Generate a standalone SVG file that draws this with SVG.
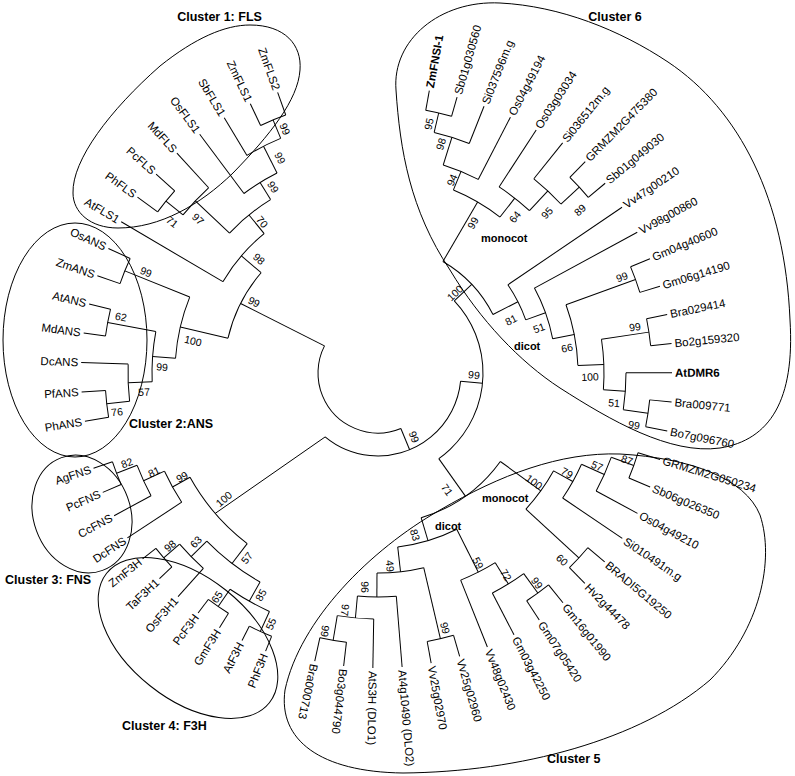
<svg xmlns="http://www.w3.org/2000/svg" width="795" height="776" viewBox="0 0 795 776">
<style>
.c{fill:none;stroke:#000;stroke-width:1}
.a{fill:none;stroke:#000;stroke-width:1}
.lf{font-family:"Liberation Sans",Arial,sans-serif;font-size:11.5px;fill:#000}
.b{font-family:"Liberation Sans",Arial,sans-serif;font-size:10.5px;fill:#000;text-anchor:middle}
.t{font-family:"Liberation Sans",Arial,sans-serif;font-size:12.5px;font-weight:bold;fill:#000}
.m{font-family:"Liberation Sans",Arial,sans-serif;font-size:11px;font-weight:bold;fill:#000}
.e{fill:none;stroke:#000;stroke-width:1}
</style>
<rect width="795" height="776" fill="#fff"/>
<g id="clusters">
<g id="cluster1"><path class="e" d="M73,193 C72,160 110,110 160,66 C195,38 225,25 250,25 C285,25 302,45 300,70 C298,100 270,135 233,173 C200,205 160,228 118,228 C90,228 73,212 73,193 Z"/><text class="t" x="219.5" y="21" text-anchor="middle">Cluster 1: FLS</text></g>
<g id="cluster2"><ellipse class="e" cx="75" cy="340" rx="72" ry="117"/><text class="t" x="129" y="428">Cluster 2:ANS</text></g>
<g id="cluster3"><ellipse class="e" cx="82" cy="514" rx="48.5" ry="60" transform="rotate(-20 82 514)"/><text class="t" x="5" y="584">Cluster 3: FNS</text></g>
<g id="cluster4"><ellipse class="e" cx="188" cy="638" rx="104" ry="61" transform="rotate(38.5 188 638)"/><text class="t" x="122" y="730">Cluster 4: F3H</text></g>
<g id="cluster5"><path class="e" d="M403,773 C520,772 640,740 710,680 C760,630 775,560 760,515 C745,478 690,458 620,454 C560,452 500,475 440,510 C370,550 300,620 285,690 C278,740 320,772 403,773 Z"/><text class="t" x="547" y="763">Cluster 5</text><text class="m" x="482" y="502">monocot</text><text class="m" x="435" y="530">dicot</text></g>
<g id="cluster6"><path class="e" d="M396,90 C392,40 440,0 500,3 C560,6 620,30 668,62 C740,110 785,200 790,320 C795,400 770,440 720,448 C670,455 610,420 560,388 C520,362 480,320 450,270 C410,210 400,150 396,90 Z"/><text class="t" x="615" y="21" text-anchor="middle">Cluster 6</text><text class="m" x="481" y="242">monocot</text><text class="m" x="514" y="350">dicot</text></g>
</g>
<g id="connectors" transform="translate(378 373)">
<circle class="a" r="60" pathLength="360" stroke-dasharray="139.25 720" transform="rotate(67.6)"/>
<line class="c" x1="60" x2="83" transform="rotate(67.6)"/>
<circle class="a" r="83" pathLength="360" stroke-dasharray="123.97 720" transform="rotate(5.63)"/>
<line class="c" x1="83" x2="105" transform="rotate(5.63)"/>
<circle class="a" r="105" pathLength="360" stroke-dasharray="98.03 720" transform="rotate(-43.39)"/>
<line class="c" x1="-52.9" y1="63.95" x2="-162.8" y2="140.4"/>
<line class="c" x1="60" x2="154" transform="rotate(206.85)"/>
<circle class="a" r="154" pathLength="360" stroke-dasharray="27.56 720" transform="rotate(193.07)"/>
<line class="c" x1="180" x2="298" transform="rotate(210.49)"/>
<line class="c" x1="273" x2="298" transform="rotate(216.18)"/>
<line class="c" x1="273" x2="298" transform="rotate(221.87)"/>
<line class="c" x1="251" x2="298" transform="rotate(227.56)"/>
<line class="c" x1="224" x2="298" transform="rotate(233.25)"/>
<line class="c" x1="254" x2="298" transform="rotate(238.94)"/>
<line class="c" x1="274" x2="298" transform="rotate(244.63)"/>
<line class="c" x1="274" x2="298" transform="rotate(250.32)"/>
<circle class="a" r="273" pathLength="360" stroke-dasharray="5.69 720" transform="rotate(216.18)"/>
<line class="c" x1="251" x2="273" transform="rotate(219.03)"/>
<circle class="a" r="251" pathLength="360" stroke-dasharray="8.53 720" transform="rotate(219.03)"/>
<line class="c" x1="204" x2="251" transform="rotate(223.3)"/>
<circle class="a" r="274" pathLength="360" stroke-dasharray="5.69 720" transform="rotate(244.63)"/>
<line class="c" x1="254" x2="274" transform="rotate(247.48)"/>
<circle class="a" r="254" pathLength="360" stroke-dasharray="8.54 720" transform="rotate(238.94)"/>
<line class="c" x1="224" x2="254" transform="rotate(243.21)"/>
<circle class="a" r="224" pathLength="360" stroke-dasharray="9.96 720" transform="rotate(233.25)"/>
<line class="c" x1="204" x2="224" transform="rotate(238.23)"/>
<circle class="a" r="204" pathLength="360" stroke-dasharray="14.93 720" transform="rotate(223.3)"/>
<line class="c" x1="180" x2="204" transform="rotate(230.77)"/>
<circle class="a" r="180" pathLength="360" stroke-dasharray="20.28 720" transform="rotate(210.49)"/>
<line class="c" x1="154" x2="180" transform="rotate(220.63)"/>
<line class="c" x1="273" x2="297" transform="rotate(170.66)"/>
<line class="c" x1="273" x2="297" transform="rotate(176.35)"/>
<line class="c" x1="250" x2="297" transform="rotate(182.04)"/>
<line class="c" x1="275" x2="297" transform="rotate(187.73)"/>
<line class="c" x1="275" x2="297" transform="rotate(193.42)"/>
<line class="c" x1="273" x2="297" transform="rotate(199.11)"/>
<line class="c" x1="273" x2="297" transform="rotate(204.8)"/>
<circle class="a" r="273" pathLength="360" stroke-dasharray="5.69 720" transform="rotate(170.66)"/>
<line class="c" x1="250" x2="273" transform="rotate(173.51)"/>
<circle class="a" r="250" pathLength="360" stroke-dasharray="8.53 720" transform="rotate(173.51)"/>
<line class="c" x1="226" x2="250" transform="rotate(177.78)"/>
<circle class="a" r="275" pathLength="360" stroke-dasharray="5.69 720" transform="rotate(187.73)"/>
<line class="c" x1="226" x2="275" transform="rotate(190.58)"/>
<circle class="a" r="226" pathLength="360" stroke-dasharray="12.8 720" transform="rotate(177.78)"/>
<line class="c" x1="203" x2="226" transform="rotate(184.18)"/>
<circle class="a" r="273" pathLength="360" stroke-dasharray="5.69 720" transform="rotate(199.11)"/>
<line class="c" x1="203" x2="273" transform="rotate(201.96)"/>
<circle class="a" r="203" pathLength="360" stroke-dasharray="17.78 720" transform="rotate(184.18)"/>
<line class="c" x1="154" x2="203" transform="rotate(193.07)"/>
<line class="c" x1="284" x2="300" transform="rotate(112)"/>
<line class="c" x1="284" x2="300" transform="rotate(116.95)"/>
<line class="c" x1="283" x2="300" transform="rotate(121.9)"/>
<line class="c" x1="283" x2="300" transform="rotate(126.85)"/>
<line class="c" x1="262" x2="300" transform="rotate(131.8)"/>
<line class="c" x1="283" x2="300" transform="rotate(136.75)"/>
<line class="c" x1="283" x2="300" transform="rotate(141.7)"/>
<line class="c" x1="235" x2="300" transform="rotate(146.65)"/>
<line class="c" x1="258" x2="300" transform="rotate(151.6)"/>
<line class="c" x1="280" x2="300" transform="rotate(156.55)"/>
<line class="c" x1="280" x2="300" transform="rotate(161.5)"/>
<circle class="a" r="284" pathLength="360" stroke-dasharray="4.95 720" transform="rotate(112)"/>
<line class="c" x1="262" x2="284" transform="rotate(114.48)"/>
<circle class="a" r="283" pathLength="360" stroke-dasharray="4.95 720" transform="rotate(121.9)"/>
<line class="c" x1="262" x2="283" transform="rotate(124.38)"/>
<circle class="a" r="262" pathLength="360" stroke-dasharray="9.9 720" transform="rotate(114.48)"/>
<line class="c" x1="240" x2="262" transform="rotate(119.43)"/>
<circle class="a" r="283" pathLength="360" stroke-dasharray="4.95 720" transform="rotate(136.75)"/>
<line class="c" x1="262" x2="283" transform="rotate(139.23)"/>
<circle class="a" r="262" pathLength="360" stroke-dasharray="7.43 720" transform="rotate(131.8)"/>
<line class="c" x1="240" x2="262" transform="rotate(135.51)"/>
<circle class="a" r="240" pathLength="360" stroke-dasharray="16.08 720" transform="rotate(119.43)"/>
<line class="c" x1="215" x2="240" transform="rotate(127.47)"/>
<circle class="a" r="280" pathLength="360" stroke-dasharray="4.95 720" transform="rotate(156.55)"/>
<line class="c" x1="258" x2="280" transform="rotate(159.03)"/>
<circle class="a" r="258" pathLength="360" stroke-dasharray="7.43 720" transform="rotate(151.6)"/>
<line class="c" x1="235" x2="258" transform="rotate(155.31)"/>
<circle class="a" r="235" pathLength="360" stroke-dasharray="8.66 720" transform="rotate(146.65)"/>
<line class="c" x1="215" x2="235" transform="rotate(150.98)"/>
<circle class="a" r="215" pathLength="360" stroke-dasharray="23.51 720" transform="rotate(127.47)"/>
<line class="c" x1="272" x2="295" transform="rotate(17.03)"/>
<line class="c" x1="272" x2="295" transform="rotate(22.72)"/>
<line class="c" x1="248" x2="295" transform="rotate(28.41)"/>
<line class="c" x1="223" x2="295" transform="rotate(34.1)"/>
<line class="c" x1="273" x2="295" transform="rotate(39.79)"/>
<line class="c" x1="273" x2="295" transform="rotate(45.48)"/>
<line class="c" x1="272" x2="295" transform="rotate(51.17)"/>
<line class="c" x1="272" x2="295" transform="rotate(56.86)"/>
<line class="c" x1="248" x2="295" transform="rotate(62.55)"/>
<line class="c" x1="223" x2="295" transform="rotate(68.24)"/>
<line class="c" x1="273" x2="295" transform="rotate(73.93)"/>
<line class="c" x1="273" x2="295" transform="rotate(79.62)"/>
<line class="c" x1="224" x2="295" transform="rotate(85.31)"/>
<line class="c" x1="246" x2="295" transform="rotate(91)"/>
<line class="c" x1="271" x2="295" transform="rotate(96.69)"/>
<line class="c" x1="271" x2="295" transform="rotate(102.38)"/>
<circle class="a" r="272" pathLength="360" stroke-dasharray="5.69 720" transform="rotate(17.03)"/>
<line class="c" x1="248" x2="272" transform="rotate(19.88)"/>
<circle class="a" r="248" pathLength="360" stroke-dasharray="8.53 720" transform="rotate(19.88)"/>
<line class="c" x1="223" x2="248" transform="rotate(24.14)"/>
<circle class="a" r="223" pathLength="360" stroke-dasharray="9.96 720" transform="rotate(24.14)"/>
<line class="c" x1="201" x2="223" transform="rotate(29.12)"/>
<circle class="a" r="273" pathLength="360" stroke-dasharray="5.69 720" transform="rotate(39.79)"/>
<line class="c" x1="201" x2="273" transform="rotate(42.63)"/>
<circle class="a" r="201" pathLength="360" stroke-dasharray="13.51 720" transform="rotate(29.12)"/>
<line class="c" x1="151" x2="201" transform="rotate(35.88)"/>
<circle class="a" r="272" pathLength="360" stroke-dasharray="5.69 720" transform="rotate(51.17)"/>
<line class="c" x1="248" x2="272" transform="rotate(54.01)"/>
<circle class="a" r="248" pathLength="360" stroke-dasharray="8.54 720" transform="rotate(54.01)"/>
<line class="c" x1="223" x2="248" transform="rotate(58.28)"/>
<circle class="a" r="223" pathLength="360" stroke-dasharray="9.96 720" transform="rotate(58.28)"/>
<line class="c" x1="175" x2="223" transform="rotate(63.26)"/>
<circle class="a" r="273" pathLength="360" stroke-dasharray="5.69 720" transform="rotate(73.93)"/>
<line class="c" x1="200" x2="273" transform="rotate(76.78)"/>
<circle class="a" r="271" pathLength="360" stroke-dasharray="5.69 720" transform="rotate(96.69)"/>
<line class="c" x1="246" x2="271" transform="rotate(99.53)"/>
<circle class="a" r="246" pathLength="360" stroke-dasharray="8.53 720" transform="rotate(91)"/>
<line class="c" x1="224" x2="246" transform="rotate(95.27)"/>
<circle class="a" r="224" pathLength="360" stroke-dasharray="9.96 720" transform="rotate(85.31)"/>
<line class="c" x1="200" x2="224" transform="rotate(90.29)"/>
<circle class="a" r="200" pathLength="360" stroke-dasharray="13.51 720" transform="rotate(76.78)"/>
<line class="c" x1="175" x2="200" transform="rotate(83.53)"/>
<circle class="a" r="175" pathLength="360" stroke-dasharray="20.27 720" transform="rotate(63.26)"/>
<line class="c" x1="151" x2="175" transform="rotate(73.4)"/>
<circle class="a" r="151" pathLength="360" stroke-dasharray="37.52 720" transform="rotate(35.88)"/>
<line class="c" x1="105" x2="151" transform="rotate(54.64)"/>
<line class="c" x1="267" x2="287" transform="rotate(-79.7)"/>
<line class="c" x1="267" x2="287" transform="rotate(-74.01)"/>
<line class="c" x1="247" x2="287" transform="rotate(-68.32)"/>
<line class="c" x1="218" x2="288" transform="rotate(-62.63)"/>
<line class="c" x1="222" x2="290" transform="rotate(-56.94)"/>
<line class="c" x1="249" x2="295" transform="rotate(-51.25)"/>
<line class="c" x1="274" x2="296" transform="rotate(-45.56)"/>
<line class="c" x1="274" x2="296" transform="rotate(-39.87)"/>
<line class="c" x1="157" x2="295" transform="rotate(-34.18)"/>
<line class="c" x1="178" x2="295" transform="rotate(-28.49)"/>
<line class="c" x1="274" x2="295" transform="rotate(-22.8)"/>
<line class="c" x1="274" x2="295" transform="rotate(-17.11)"/>
<line class="c" x1="274" x2="295" transform="rotate(-11.42)"/>
<line class="c" x1="274" x2="295" transform="rotate(-5.73)"/>
<line class="c" x1="248" x2="294" transform="rotate(-0.04)"/>
<line class="c" x1="273" x2="295" transform="rotate(5.65)"/>
<line class="c" x1="273" x2="295" transform="rotate(11.34)"/>
<circle class="a" r="267" pathLength="360" stroke-dasharray="5.69 720" transform="rotate(-79.7)"/>
<line class="c" x1="247" x2="267" transform="rotate(-76.86)"/>
<circle class="a" r="247" pathLength="360" stroke-dasharray="8.54 720" transform="rotate(-76.86)"/>
<line class="c" x1="218" x2="247" transform="rotate(-72.59)"/>
<circle class="a" r="218" pathLength="360" stroke-dasharray="9.96 720" transform="rotate(-72.59)"/>
<line class="c" x1="198" x2="218" transform="rotate(-67.61)"/>
<circle class="a" r="274" pathLength="360" stroke-dasharray="5.69 720" transform="rotate(-45.56)"/>
<line class="c" x1="249" x2="274" transform="rotate(-42.72)"/>
<circle class="a" r="249" pathLength="360" stroke-dasharray="8.53 720" transform="rotate(-51.25)"/>
<line class="c" x1="222" x2="249" transform="rotate(-46.98)"/>
<circle class="a" r="222" pathLength="360" stroke-dasharray="9.96 720" transform="rotate(-56.94)"/>
<line class="c" x1="198" x2="222" transform="rotate(-51.96)"/>
<circle class="a" r="198" pathLength="360" stroke-dasharray="15.65 720" transform="rotate(-67.61)"/>
<line class="c" x1="129" x2="198" transform="rotate(-59.79)"/>
<circle class="a" r="274" pathLength="360" stroke-dasharray="5.69 720" transform="rotate(-22.8)"/>
<line class="c" x1="200" x2="274" transform="rotate(-19.96)"/>
<circle class="a" r="274" pathLength="360" stroke-dasharray="5.69 720" transform="rotate(-11.42)"/>
<line class="c" x1="226" x2="274" transform="rotate(-8.58)"/>
<circle class="a" r="273" pathLength="360" stroke-dasharray="5.69 720" transform="rotate(5.65)"/>
<line class="c" x1="248" x2="273" transform="rotate(8.5)"/>
<circle class="a" r="248" pathLength="360" stroke-dasharray="8.54 720" transform="rotate(-0.04)"/>
<line class="c" x1="226" x2="248" transform="rotate(4.23)"/>
<circle class="a" r="226" pathLength="360" stroke-dasharray="12.81 720" transform="rotate(-8.58)"/>
<line class="c" x1="200" x2="226" transform="rotate(-2.18)"/>
<circle class="a" r="200" pathLength="360" stroke-dasharray="17.78 720" transform="rotate(-19.96)"/>
<line class="c" x1="178" x2="200" transform="rotate(-11.07)"/>
<circle class="a" r="178" pathLength="360" stroke-dasharray="17.42 720" transform="rotate(-28.49)"/>
<line class="c" x1="157" x2="178" transform="rotate(-19.78)"/>
<circle class="a" r="157" pathLength="360" stroke-dasharray="14.4 720" transform="rotate(-34.18)"/>
<line class="c" x1="129" x2="157" transform="rotate(-26.98)"/>
<circle class="a" r="129" pathLength="360" stroke-dasharray="32.81 720" transform="rotate(-59.79)"/>
<line class="c" x1="105" x2="129" transform="rotate(-43.39)"/>
</g>
<g id="leaves" transform="translate(378 373)">
<g id="n-AtFLS1"><text class="lf" x="-301" dy="0.35em" text-anchor="end" transform="rotate(30.49)">AtFLS1</text></g>
<g id="n-PhFLS"><text class="lf" x="-301" dy="0.35em" text-anchor="end" transform="rotate(36.18)">PhFLS</text></g>
<g id="n-PcFLS"><text class="lf" x="-301" dy="0.35em" text-anchor="end" transform="rotate(41.87)">PcFLS</text></g>
<g id="n-MdFLS"><text class="lf" x="-301" dy="0.35em" text-anchor="end" transform="rotate(47.56)">MdFLS</text></g>
<g id="n-OsFLS1"><text class="lf" x="-301" dy="0.35em" text-anchor="end" transform="rotate(53.25)">OsFLS1</text></g>
<g id="n-SbFLS1"><text class="lf" x="-301" dy="0.35em" text-anchor="end" transform="rotate(58.94)">SbFLS1</text></g>
<g id="n-ZmFLS1"><text class="lf" x="-301" dy="0.35em" text-anchor="end" transform="rotate(64.63)">ZmFLS1</text></g>
<g id="n-ZmFLS2"><text class="lf" x="-301" dy="0.35em" text-anchor="end" transform="rotate(70.32)">ZmFLS2</text></g>
<g id="n-PhANS"><text class="lf" x="-300" dy="0.35em" text-anchor="end" transform="rotate(-9.34)">PhANS</text></g>
<g id="n-PfANS"><text class="lf" x="-300" dy="0.35em" text-anchor="end" transform="rotate(-3.65)">PfANS</text></g>
<g id="n-DcANS"><text class="lf" x="-300" dy="0.35em" text-anchor="end" transform="rotate(2.04)">DcANS</text></g>
<g id="n-MdANS"><text class="lf" x="-300" dy="0.35em" text-anchor="end" transform="rotate(7.73)">MdANS</text></g>
<g id="n-AtANS"><text class="lf" x="-300" dy="0.35em" text-anchor="end" transform="rotate(13.42)">AtANS</text></g>
<g id="n-ZmANS"><text class="lf" x="-300" dy="0.35em" text-anchor="end" transform="rotate(19.11)">ZmANS</text></g>
<g id="n-OsANS"><text class="lf" x="-300" dy="0.35em" text-anchor="end" transform="rotate(24.8)">OsANS</text></g>
<g id="n-PhF3H"><text class="lf" x="-303" dy="0.35em" text-anchor="end" transform="rotate(-68)">PhF3H</text></g>
<g id="n-AtF3H"><text class="lf" x="-303" dy="0.35em" text-anchor="end" transform="rotate(-63.05)">AtF3H</text></g>
<g id="n-GmF3H"><text class="lf" x="-303" dy="0.35em" text-anchor="end" transform="rotate(-58.1)">GmF3H</text></g>
<g id="n-PcF3H"><text class="lf" x="-303" dy="0.35em" text-anchor="end" transform="rotate(-53.15)">PcF3H</text></g>
<g id="n-OsF3H1"><text class="lf" x="-303" dy="0.35em" text-anchor="end" transform="rotate(-48.2)">OsF3H1</text></g>
<g id="n-TaF3H1"><text class="lf" x="-303" dy="0.35em" text-anchor="end" transform="rotate(-43.25)">TaF3H1</text></g>
<g id="n-ZmF3H"><text class="lf" x="-303" dy="0.35em" text-anchor="end" transform="rotate(-38.3)">ZmF3H</text></g>
<g id="n-DcFNS"><text class="lf" x="-303" dy="0.35em" text-anchor="end" transform="rotate(-33.35)">DcFNS</text></g>
<g id="n-CcFNS"><text class="lf" x="-303" dy="0.35em" text-anchor="end" transform="rotate(-28.4)">CcFNS</text></g>
<g id="n-PcFNS"><text class="lf" x="-303" dy="0.35em" text-anchor="end" transform="rotate(-23.45)">PcFNS</text></g>
<g id="n-AgFNS"><text class="lf" x="-303" dy="0.35em" text-anchor="end" transform="rotate(-18.5)">AgFNS</text></g>
<g id="n-GRMZM2G050234"><text class="lf" x="298" dy="0.35em" transform="rotate(17.03)">GRMZM2G050234</text></g>
<g id="n-Sb06g026350"><text class="lf" x="298" dy="0.35em" transform="rotate(22.72)">Sb06g026350</text></g>
<g id="n-Os04g49210"><text class="lf" x="298" dy="0.35em" transform="rotate(28.41)">Os04g49210</text></g>
<g id="n-Si010491m.g"><text class="lf" x="298" dy="0.35em" transform="rotate(34.1)">Si010491m.g</text></g>
<g id="n-BRADI5G19250"><text class="lf" x="298" dy="0.35em" transform="rotate(39.79)">BRADI5G19250</text></g>
<g id="n-Hv2g44478"><text class="lf" x="298" dy="0.35em" transform="rotate(45.48)">Hv2g44478</text></g>
<g id="n-Gm16g01990"><text class="lf" x="298" dy="0.35em" transform="rotate(51.17)">Gm16g01990</text></g>
<g id="n-Gm07g05420"><text class="lf" x="298" dy="0.35em" transform="rotate(56.86)">Gm07g05420</text></g>
<g id="n-Gm03g42250"><text class="lf" x="298" dy="0.35em" transform="rotate(62.55)">Gm03g42250</text></g>
<g id="n-Vv48g02430"><text class="lf" x="298" dy="0.35em" transform="rotate(68.24)">Vv48g02430</text></g>
<g id="n-Vv25g02960"><text class="lf" x="298" dy="0.35em" transform="rotate(73.93)">Vv25g02960</text></g>
<g id="n-Vv25g02970"><text class="lf" x="298" dy="0.35em" transform="rotate(79.62)">Vv25g02970</text></g>
<g id="n-At4g10490"><text class="lf" x="298" dy="0.35em" transform="rotate(85.31)">At4g10490 (DLO2)</text></g>
<g id="n-AtS3H"><text class="lf" x="298" dy="0.35em" transform="rotate(91)">AtS3H (DLO1)</text></g>
<g id="n-Bo3g044790"><text class="lf" x="298" dy="0.35em" transform="rotate(96.69)">Bo3g044790</text></g>
<g id="n-Bra000713"><text class="lf" x="298" dy="0.35em" transform="rotate(102.38)">Bra000713</text></g>
<g id="n-ZmFNSI-1"><text class="lf" x="290" dy="0.35em" font-weight="bold" transform="rotate(-79.7)">ZmFNSI-1</text></g>
<g id="n-Sb01g030560"><text class="lf" x="290" dy="0.35em" transform="rotate(-74.01)">Sb01g030560</text></g>
<g id="n-Si037596m.g"><text class="lf" x="290" dy="0.35em" transform="rotate(-68.32)">Si037596m.g</text></g>
<g id="n-Os04g49194"><text class="lf" x="291" dy="0.35em" transform="rotate(-62.63)">Os04g49194</text></g>
<g id="n-Os03g03034"><text class="lf" x="293" dy="0.35em" transform="rotate(-56.94)">Os03g03034</text></g>
<g id="n-Si036512m.g"><text class="lf" x="298" dy="0.35em" transform="rotate(-51.25)">Si036512m.g</text></g>
<g id="n-GRMZM2G475380"><text class="lf" x="299" dy="0.35em" transform="rotate(-45.56)">GRMZM2G475380</text></g>
<g id="n-Sb01g049030"><text class="lf" x="299" dy="0.35em" transform="rotate(-39.87)">Sb01g049030</text></g>
<g id="n-Vv47g00210"><text class="lf" x="298" dy="0.35em" transform="rotate(-34.18)">Vv47g00210</text></g>
<g id="n-Vv98g00860"><text class="lf" x="298" dy="0.35em" transform="rotate(-28.49)">Vv98g00860</text></g>
<g id="n-Gm04g40600"><text class="lf" x="298" dy="0.35em" transform="rotate(-22.8)">Gm04g40600</text></g>
<g id="n-Gm06g14190"><text class="lf" x="298" dy="0.35em" transform="rotate(-17.11)">Gm06g14190</text></g>
<g id="n-Bra029414"><text class="lf" x="298" dy="0.35em" transform="rotate(-11.42)">Bra029414</text></g>
<g id="n-Bo2g159320"><text class="lf" x="298" dy="0.35em" transform="rotate(-5.73)">Bo2g159320</text></g>
<g id="n-AtDMR6"><text class="lf" x="297" dy="0.35em" font-weight="bold" transform="rotate(-0.04)">AtDMR6</text></g>
<g id="n-Bra009771"><text class="lf" x="298" dy="0.35em" transform="rotate(5.65)">Bra009771</text></g>
<g id="n-Bo7g096760"><text class="lf" x="298" dy="0.35em" transform="rotate(11.34)">Bo7g096760</text></g>
</g>
<g id="bootstrap">
<text class="b" x="285" y="129" dy="0.35em" transform="rotate(67.5 285 129)">99</text>
<text class="b" x="280" y="158" dy="0.35em" transform="rotate(63.2 280 158)">99</text>
<text class="b" x="273" y="187" dy="0.35em" transform="rotate(58.2 273 187)">99</text>
<text class="b" x="262" y="222" dy="0.35em" transform="rotate(50.8 262 222)">70</text>
<text class="b" x="198" y="219" dy="0.35em" transform="rotate(43.3 198 219)">97</text>
<text class="b" x="172" y="222" dy="0.35em" transform="rotate(39 172 222)">71</text>
<text class="b" x="259" y="259" dy="0.35em" transform="rotate(40.6 259 259)">98</text>
<text class="b" x="146" y="272" dy="0.35em" transform="rotate(22 146 272)">99</text>
<text class="b" x="121" y="317" dy="0.35em" transform="rotate(10.6 121 317)">62</text>
<text class="b" x="144" y="392" dy="0.35em" transform="rotate(-2.2 144 392)">57</text>
<text class="b" x="117" y="412" dy="0.35em" transform="rotate(-6.5 117 412)">76</text>
<text class="b" x="162" y="367" dy="0.35em" transform="rotate(4.2 162 367)">99</text>
<text class="b" x="193" y="341" dy="0.35em" transform="rotate(13 193 341)">100</text>
<text class="b" x="254" y="302" dy="0.35em" transform="rotate(26.9 254 302)">99</text>
<text class="b" x="127" y="463" dy="0.35em" transform="rotate(-21 127 463)">82</text>
<text class="b" x="154" y="472" dy="0.35em" transform="rotate(-24.7 154 472)">81</text>
<text class="b" x="182" y="477" dy="0.35em" transform="rotate(-29 182 477)">99</text>
<text class="b" x="224" y="499" dy="0.35em" transform="rotate(-40.8 224 499)">100</text>
<text class="b" x="170" y="546" dy="0.35em" transform="rotate(-40.8 170 546)">98</text>
<text class="b" x="196" y="542" dy="0.35em" transform="rotate(-44.5 196 542)">63</text>
<text class="b" x="247" y="558" dy="0.35em" transform="rotate(-52.5 247 558)">57</text>
<text class="b" x="261" y="595" dy="0.35em" transform="rotate(-60.6 261 595)">85</text>
<text class="b" x="217" y="597" dy="0.35em" transform="rotate(-55.6 217 597)">65</text>
<text class="b" x="271" y="624" dy="0.35em" transform="rotate(-65.5 271 624)">55</text>
<text class="b" x="414" y="437" dy="0.35em" transform="rotate(68 414 437)">99</text>
<text class="b" x="474" y="375" dy="0.35em" transform="rotate(5.6 474 375)">99</text>
<text class="b" x="447" y="490" dy="0.35em" transform="rotate(54.6 447 490)">71</text>
<text class="b" x="534" y="482" dy="0.35em" transform="rotate(35.9 534 482)">100</text>
<text class="b" x="567" y="473" dy="0.35em" transform="rotate(29.1 567 473)">79</text>
<text class="b" x="597" y="466" dy="0.35em" transform="rotate(24.1 597 466)">57</text>
<text class="b" x="627" y="460" dy="0.35em" transform="rotate(19.9 627 460)">87</text>
<text class="b" x="562" y="560" dy="0.35em" transform="rotate(42.6 562 560)">60</text>
<text class="b" x="415" y="535" dy="0.35em" transform="rotate(73.4 415 535)">83</text>
<text class="b" x="390" y="566" dy="0.35em" transform="rotate(83.5 390 566)">49</text>
<text class="b" x="365" y="587" dy="0.35em" transform="rotate(90.3 365 587)">96</text>
<text class="b" x="345" y="610" dy="0.35em" transform="rotate(95.3 345 610)">97</text>
<text class="b" x="325" y="631" dy="0.35em" transform="rotate(99.5 325 631)">99</text>
<text class="b" x="445" y="628" dy="0.35em" transform="rotate(76.8 445 628)">99</text>
<text class="b" x="478" y="563" dy="0.35em" transform="rotate(63.3 478 563)">59</text>
<text class="b" x="506" y="575" dy="0.35em" transform="rotate(58.3 506 575)">72</text>
<text class="b" x="537" y="583" dy="0.35em" transform="rotate(54 537 583)">99</text>
<text class="b" x="429" y="124" dy="0.35em" transform="rotate(-76.9 429 124)">95</text>
<text class="b" x="441" y="144" dy="0.35em" transform="rotate(-72.6 441 144)">98</text>
<text class="b" x="452" y="180" dy="0.35em" transform="rotate(-67.6 452 180)">94</text>
<text class="b" x="473" y="223" dy="0.35em" transform="rotate(-59.8 473 223)">99</text>
<text class="b" x="515" y="217" dy="0.35em" transform="rotate(-52 515 217)">64</text>
<text class="b" x="547" y="213" dy="0.35em" transform="rotate(-47 547 213)">95</text>
<text class="b" x="580" y="210" dy="0.35em" transform="rotate(-42.7 580 210)">89</text>
<text class="b" x="455" y="293" dy="0.35em" transform="rotate(-43.4 455 293)">100</text>
<text class="b" x="511" y="320" dy="0.35em" transform="rotate(-27 511 320)">81</text>
<text class="b" x="539" y="328" dy="0.35em" transform="rotate(-19.8 539 328)">51</text>
<text class="b" x="567" y="348" dy="0.35em" transform="rotate(-11 567 348)">66</text>
<text class="b" x="622" y="277" dy="0.35em" transform="rotate(-20 622 277)">99</text>
<text class="b" x="635" y="327" dy="0.35em" transform="rotate(-8.6 635 327)">99</text>
<text class="b" x="590" y="377" dy="0.35em" transform="rotate(-2.2 590 377)">100</text>
<text class="b" x="614" y="403" dy="0.35em" transform="rotate(4.2 614 403)">51</text>
<text class="b" x="634" y="425" dy="0.35em" transform="rotate(8.5 634 425)">99</text>
</g>
</svg>
